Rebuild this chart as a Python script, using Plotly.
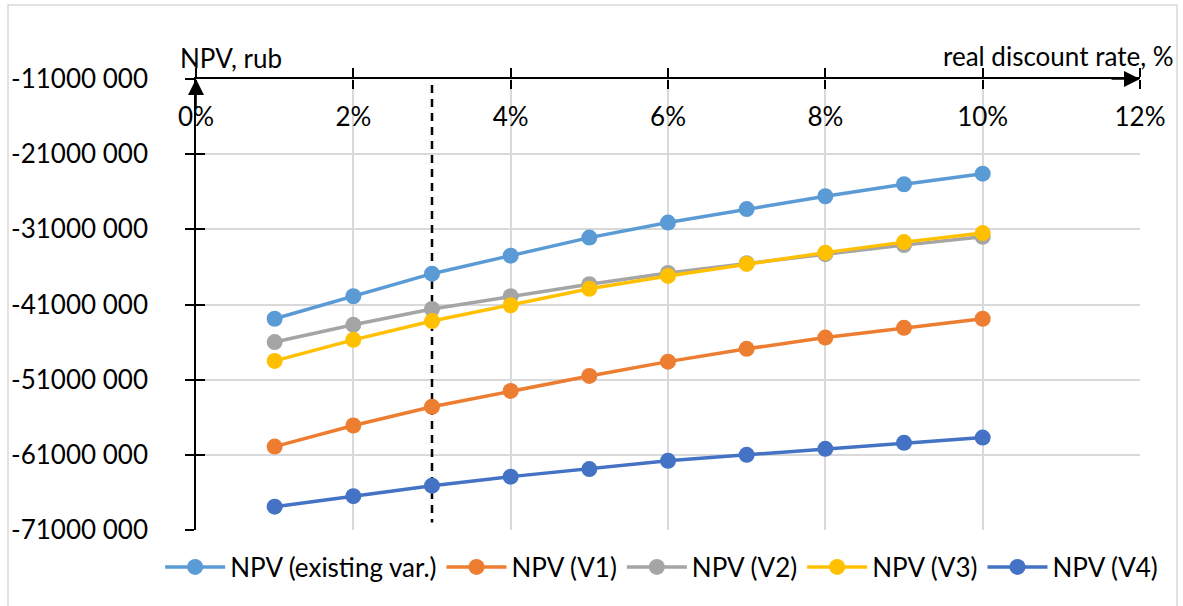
import plotly.graph_objects as go

rates = [1, 2, 3, 4, 5, 6, 7, 8, 9, 10]
npv_existing = [-42.9e6, -39.9e6, -36.9e6, -34.5e6, -32.1e6, -30.1e6, -28.3e6, -26.6e6, -25.0e6, -23.6e6]
npv_v1 = [-59.9e6, -57.1e6, -54.6e6, -52.5e6, -50.5e6, -48.6e6, -46.9e6, -45.4e6, -44.1e6, -42.9e6]
npv_v2 = [-46.0e6, -43.7e6, -41.6e6, -39.9e6, -38.3e6, -36.8e6, -35.5e6, -34.3e6, -33.1e6, -32.0e6]
npv_v3 = [-48.5e6, -45.7e6, -43.2e6, -41.1e6, -38.9e6, -37.2e6, -35.6e6, -34.1e6, -32.7e6, -31.5e6]
npv_v4 = [-67.9e6, -66.5e6, -65.1e6, -63.9e6, -62.9e6, -61.8e6, -61.0e6, -60.2e6, -59.4e6, -58.7e6]
series_names = ["NPV (existing var.)", "NPV (V1)", "NPV (V2)", "NPV (V3)", "NPV (V4)"]
colors = ["#5B9BD5", "#ED7D31", "#A5A5A5", "#FFC000", "#4472C4"]

x_ticks = [0, 2, 4, 6, 8, 10, 12]
x_ticklabels = ["0%", "2%", "4%", "6%", "8%", "10%", "12%"]
y_ticks = [-11e6, -21e6, -31e6, -41e6, -51e6, -61e6, -71e6]
y_ticklabels = ["-11000 000", "-21000 000", "-31000 000", "-41000 000",
                "-51000 000", "-61000 000", "-71000 000"]
marker_rate = 3
x_range = [0, 12]
y_range = [-71e6, -11e6]

FONT = "Lato, Carlito, Calibri, sans-serif"
FS = 26
tickfont = dict(family=FONT, size=FS, color="black")

fig = go.Figure()

# dashed reference line at the chosen discount rate
fig.add_trace(go.Scatter(x=[marker_rate, marker_rate], y=[-11.8e6, -70e6], mode="lines",
                         line=dict(color="black", width=2.5, dash="8px,6px"),
                         showlegend=False, hoverinfo="skip"))

for name, vals, col in zip(series_names, [npv_existing, npv_v1, npv_v2, npv_v3, npv_v4], colors):
    fig.add_trace(go.Scatter(x=rates, y=vals, name=name, mode="lines+markers",
                             line=dict(color=col, width=3.5),
                             marker=dict(color=col, size=16)))

# overlay axes: labels below the top axis line, inner half of crossing ticks
fig.add_trace(go.Scatter(x=[None], y=[None], xaxis="x2", yaxis="y2", showlegend=False))

fig.update_layout(
    width=1183, height=606,
    margin=dict(l=196, r=43, t=79, b=76, autoexpand=False),
    paper_bgcolor="white", plot_bgcolor="white",
    font=dict(family=FONT, size=FS, color="black"),
    xaxis=dict(range=x_range, tickvals=x_ticks, showticklabels=False, side="top",
               showgrid=True, gridcolor="#D9D9D9", gridwidth=1.5,
               showline=True, linecolor="black", linewidth=1.6,
               ticks="outside", ticklen=9, tickwidth=1.5, tickcolor="black",
               zeroline=False, fixedrange=True, automargin=False),
    yaxis=dict(range=y_range, tickvals=y_ticks, ticktext=y_ticklabels, tickfont=tickfont,
               showgrid=True, gridcolor="#D9D9D9", gridwidth=1.5,
               showline=True, linecolor="black", linewidth=1.6,
               ticks="outside", ticklen=9, tickwidth=1.5, tickcolor="black",
               ticklabelstandoff=32, zeroline=False, fixedrange=True, automargin=False),
    xaxis2=dict(range=x_range, overlaying="x", side="bottom", anchor="free", position=1,
                tickvals=x_ticks, ticktext=x_ticklabels, tickfont=tickfont,
                showticklabels=True, ticklabelstandoff=6,
                showgrid=False, showline=False, zeroline=False,
                ticks="outside", ticklen=9, tickwidth=1.5, tickcolor="black",
                automargin=False, fixedrange=True),
    yaxis2=dict(range=y_range, overlaying="y", side="left", anchor="x", tickvals=y_ticks,
                showticklabels=False, showgrid=False, showline=False, zeroline=False,
                ticks="inside", ticklen=9, tickwidth=1.5, tickcolor="black",
                automargin=False, fixedrange=True),
    legend=dict(orientation="h", x=-0.038, xanchor="left", y=-0.082, yanchor="middle",
                font=dict(family=FONT, size=FS, color="black"), itemwidth=60),
    showlegend=True,
)

# axis arrows (tail offsets in pixels)
fig.add_annotation(x=0, y=-11e6, ax=0, ay=30, xref="x", yref="y",
                   showarrow=True, arrowhead=2, arrowsize=2, arrowwidth=1.6,
                   arrowcolor="black", text="")
fig.add_annotation(x=12, y=-11e6, ax=-30, ay=0, xref="x", yref="y",
                   showarrow=True, arrowhead=2, arrowsize=2, arrowwidth=1.6,
                   arrowcolor="black", text="")

# axis titles
fig.add_annotation(text="NPV, rub", x=0, y=1, xref="paper", yref="paper",
                   showarrow=False, xanchor="left", yanchor="middle",
                   xshift=-18, yshift=21, font=dict(family=FONT, size=FS, color="black"))
fig.add_annotation(text="real discount rate, %", x=1, y=1, xref="paper", yref="paper",
                   showarrow=False, xanchor="right", yanchor="middle",
                   xshift=36, yshift=23, font=dict(family=FONT, size=FS, color="black"))

# outer chart border
fig.add_shape(type="rect", xref="paper", yref="paper",
              x0=(8 - 196) / 944, x1=(1177 - 196) / 944, y0=-0.3, y1=(530 - 5) / 451,
              line=dict(color="#D9D9D9", width=1.5), fillcolor="rgba(0,0,0,0)", layer="below")

fig.write_html("out.html", config={"displayModeBar": False},
               post_script="document.body.style.margin='0';")
